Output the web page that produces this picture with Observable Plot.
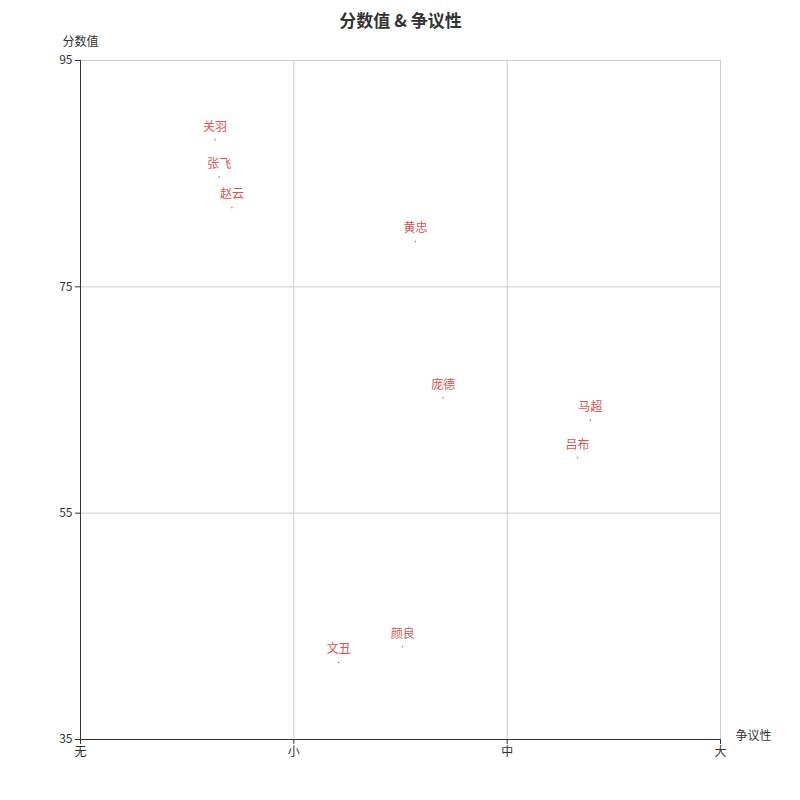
<!DOCTYPE html>
<html>
<head>
<meta charset="utf-8">
<script src="https://cdn.jsdelivr.net/npm/d3@7"></script>
<script src="https://cdn.jsdelivr.net/npm/@observablehq/plot@0.6"></script>
<style>
  body { margin: 0; background: #fff; }
  #chart svg { display: block; overflow: visible; }
</style>
</head>
<body>
<div id="chart"></div>
<script>
const names = ["关羽", "张飞", "赵云", "黄忠", "庞德", "马超", "吕布", "颜良", "文丑"];
const controversy = [0.63, 0.65, 0.71, 1.57, 1.70, 2.39, 2.33, 1.51, 1.21];
const score = [88.0, 84.7, 82.0, 79.0, 65.2, 63.2, 59.9, 43.2, 41.8];
const xTickValues = [0, 1, 2, 3];
const xTickLabels = ["无", "小", "中", "大"];
const yTickValues = [35, 55, 75, 95];
const title = "分数值 & 争议性";
const yName = "分数值";
const xName = "争议性";

const data = names.map((n, i) => ({name: n, x: controversy[i], y: score[i]}));
const red = "#d9534f";
const font = "'Noto Sans CJK SC', 'Noto Sans', sans-serif";

const chart = Plot.plot({
  width: 800,
  height: 800,
  marginLeft: 80,
  marginRight: 80,
  marginTop: 60,
  marginBottom: 61,
  style: {fontFamily: font, fontSize: "12px", color: "#333", background: "#fff"},
  x: {domain: [0, 3], ticks: xTickValues, tickFormat: d => xTickLabels[xTickValues.indexOf(d)], label: null},
  y: {domain: [35, 95], ticks: yTickValues, label: null},
  marks: [
    Plot.ruleX(xTickValues.slice(1), {stroke: "#ccc"}),
    Plot.ruleY(yTickValues.slice(1), {stroke: "#ccc"}),
    Plot.axisX({ticks: xTickValues, tickFormat: d => xTickLabels[xTickValues.indexOf(d)], tickSize: 5, tickPadding: 3, label: null, stroke: "#333", fill: "#333"}),
    Plot.axisY({ticks: yTickValues, tickSize: 5, tickPadding: 3, label: null, stroke: "#333", fill: "#333"}),
    Plot.ruleX([0], {stroke: "#333"}),
    Plot.ruleY([35], {stroke: "#333"}),
    Plot.dot(data, {x: "x", y: "y", r: 0.8, fill: red, stroke: null}),
    Plot.text(data, {x: "x", y: "y", text: "name", dy: -13, fill: red, fontSize: 12}),
    Plot.text([title], {frameAnchor: "top", dy: -46, fontSize: 17, fontWeight: "bold", fill: "#333"}),
    Plot.text([yName], {frameAnchor: "top-left", dy: -23, textAnchor: "middle", fontSize: 12, fill: "#333"}),
    Plot.text([xName], {frameAnchor: "bottom-right", dx: 15, textAnchor: "start", fontSize: 12, fill: "#333"})
  ]
});
document.getElementById("chart").appendChild(chart);
</script>
</body>
</html>
